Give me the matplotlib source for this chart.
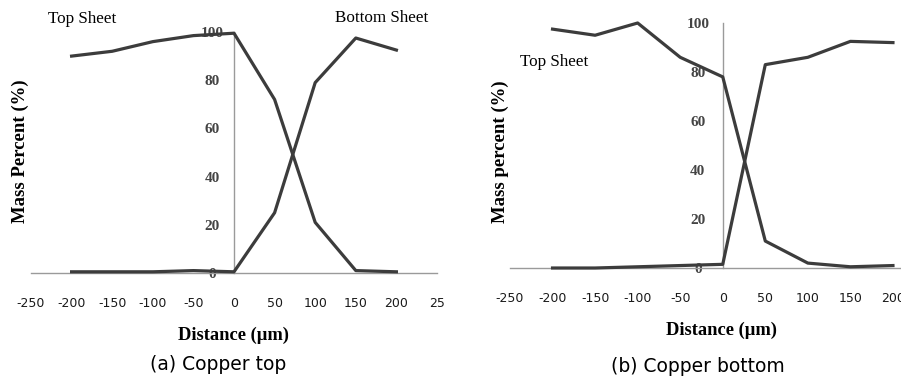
import matplotlib
matplotlib.use("Agg")
import matplotlib.pyplot as plt

# distance (um)
dist = [-200, -150, -100, -50, 0, 50, 100, 150, 200]

# (a) copper top
top_a = [90, 92, 96, 98.5, 99.5, 72, 21, 1, 0.5]
bot_a = [0.5, 0.5, 0.5, 1, 0.5, 25, 79, 97.5, 92.5]

# (b) copper bottom
top_b = [97.5, 95, 100, 86, 78, 11, 2, 0.5, 1]
bot_b = [0, 0, 0.5, 1, 1.5, 83, 86, 92.5, 92]

xticks = [-250, -200, -150, -100, -50, 0, 50, 100, 150, 200, 250]
xlabels_a = ["-250", "-200", "-150", "-100", "-50", "0", "50", "100", "150", "200", "25"]
xlabels_b = ["-250", "-200", "-150", "-100", "-50", "0", "50", "100", "150", "200", ""]
yticks = [0, 20, 40, 60, 80, 100]

W, H = 901, 381
fig = plt.figure(figsize=(W / 100, H / 100), dpi=100)

line_col = "#3c3c3c"
serif = "Liberation Serif"


def setup(ax, xlabels, ypad):
    ax.set_xlim(-250, 250)
    ax.set_ylim(0, 100)
    for s in ["top", "right"]:
        ax.spines[s].set_visible(False)
    ax.spines["left"].set_position(("data", 0))
    for s in ["left", "bottom"]:
        ax.spines[s].set_color("#9a9a9a")
        ax.spines[s].set_linewidth(1.0)
    ax.set_xticks(xticks)
    ax.set_xticklabels(xlabels, fontsize=9, color="#1a1a1a")
    ax.set_yticks(yticks)
    ax.set_yticklabels([str(v) for v in yticks], fontsize=11, color="#444444",
                       fontfamily=serif, fontweight="bold", ha="center")
    ax.tick_params(axis="x", length=0, pad=17)
    ax.tick_params(axis="y", length=0, pad=ypad)
    ax.patch.set_alpha(0)


# left panel
ax1 = fig.add_axes([31 / W, (H - 273) / H, 406 / W, 241 / H])
setup(ax1, xlabels_a, 15.5)
ax1.plot(dist, top_a, color=line_col, lw=2.3, clip_on=False, zorder=5)
ax1.plot(dist, bot_a, color=line_col, lw=2.3, clip_on=False, zorder=5)

# right panel (cut off by the figure edge, as in the source)
ax2 = fig.add_axes([510 / W, (H - 268) / H, 425.5 / W, 245 / H])
setup(ax2, xlabels_b, 18)
ax2.plot(dist, top_b, color=line_col, lw=2.3, clip_on=False, zorder=5)
ax2.plot(dist, bot_b, color=line_col, lw=2.3, clip_on=False, zorder=5)

# annotations
fig.text(48 / W, 1 - 19 / H, "Top Sheet", fontfamily=serif, fontsize=12.3, va="center")
fig.text(335 / W, 1 - 18 / H, "Bottom Sheet", fontfamily=serif, fontsize=12.3, va="center")
fig.text(520 / W, 1 - 62 / H, "Top Sheet", fontfamily=serif, fontsize=12.3, va="center")

fig.text(20 / W, 1 - 151 / H, "Mass Percent (%)", fontfamily=serif, fontweight="bold",
         fontsize=13.5, rotation=90, ha="center", va="center")
fig.text(500 / W, 1 - 152 / H, "Mass percent (%)", fontfamily=serif, fontweight="bold",
         fontsize=13.5, rotation=90, ha="center", va="center")

fig.text(234 / W, 1 - 335 / H, "Distance (\u00b5m)", fontfamily=serif, fontweight="bold",
         fontsize=13.3, ha="center", va="center")
fig.text(722 / W, 1 - 330 / H, "Distance (\u00b5m)", fontfamily=serif, fontweight="bold",
         fontsize=13.3, ha="center", va="center")

fig.text(218 / W, 1 - 365 / H, "(a) Copper top", fontsize=13.5, ha="center", va="center")
fig.text(698 / W, 1 - 366 / H, "(b) Copper bottom", fontsize=13.5, ha="center", va="center")

fig.savefig("out.png", dpi=100)
